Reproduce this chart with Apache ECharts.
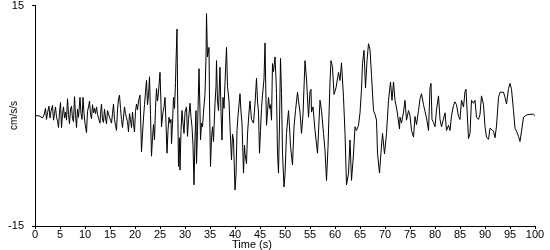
<!DOCTYPE html>
<html><head><meta charset="utf-8">
<script src="https://cdn.jsdelivr.net/npm/echarts@6/dist/echarts.min.js"></script>
<style>html,body{margin:0;padding:0;background:#fff}#c{width:550px;height:250px}</style>
</head><body><div id="c"></div>
<script>
var times = [0,0.4,0.8,1.2,1.5,1.8,2.1,2.3,2.5,2.8,3.0,3.2,3.5,3.7,3.9,4.1,4.3,4.5,4.7,4.9,5.1,5.3,5.5,5.7,5.9,6.1,6.3,6.5,6.7,6.9,7.1,7.3,7.5,7.7,7.9,8.1,8.3,8.5,8.7,9.0,9.2,9.4,9.6,9.8,10.0,10.3,10.5,10.7,10.9,11.1,11.3,11.5,11.7,11.9,12.1,12.3,12.5,12.7,13.0,13.1,13.3,13.5,13.7,13.9,14.1,14.3,14.5,14.7,14.9,15.1,15.3,15.5,15.7,15.9,16.1,16.3,16.5,16.7,16.9,17.1,17.3,17.5,17.7,17.9,18.1,18.3,18.5,18.7,18.9,19.1,19.3,19.5,19.7,19.9,20.1,20.3,20.5,20.7,21.0,21.3,21.5,21.7,21.9,22.1,22.3,22.5,22.7,22.9,23.1,23.3,23.5,23.7,23.9,24.1,24.3,24.5,24.7,25.0,25.2,25.3,25.6,25.8,26.0,26.2,26.4,26.6,26.8,27.0,27.2,27.3,27.5,27.7,27.9,28.1,28.2,28.4,28.5,28.7,28.9,29.0,29.2,29.4,29.6,29.8,30.0,30.3,30.5,30.7,31.0,31.2,31.4,31.6,31.8,32.0,32.2,32.3,32.5,32.8,33.0,33.1,33.3,33.5,33.7,34.0,34.2,34.3,34.5,34.8,34.9,35.1,35.3,35.5,35.7,36.0,36.2,36.3,36.5,36.7,37.0,37.2,37.4,37.6,37.8,38.0,38.3,38.5,38.8,39.0,39.3,39.5,39.7,40.0,40.2,40.4,40.6,41.0,41.2,41.4,41.7,41.9,42.0,42.3,42.5,42.8,43.0,43.3,43.7,44.0,44.3,44.5,44.7,44.9,45.1,45.3,45.5,45.8,46.0,46.2,46.3,46.5,46.7,46.9,47.1,47.3,47.5,47.7,48.0,48.2,48.3,48.5,48.7,48.9,49.1,49.3,49.5,49.8,50.0,50.3,50.7,50.9,51.1,51.5,51.8,52.1,52.5,52.7,53.0,53.3,53.6,54.0,54.3,54.7,55.0,55.2,55.3,55.6,56.0,56.5,57.0,57.3,57.7,58.0,58.3,58.6,59.0,59.2,59.5,59.8,60.2,60.7,61.0,61.3,61.7,62.0,62.3,62.7,63.0,63.3,63.7,64.0,64.3,64.7,65.0,65.3,65.5,65.8,66.1,66.4,66.7,67.0,67.3,67.7,68.0,68.3,68.5,68.9,69.2,69.5,69.9,70.3,70.7,71.1,71.4,71.7,72.0,72.4,72.9,73.0,73.3,73.7,74.0,74.3,74.7,75.0,75.3,75.7,76.0,76.3,76.7,77.0,77.3,77.7,78.0,78.3,78.7,79.0,79.2,79.4,79.7,80.0,80.3,80.7,81.0,81.3,81.7,82.0,82.3,82.7,83.0,83.3,83.7,84.0,84.3,84.7,85.0,85.3,85.7,86.0,86.2,86.7,87.0,87.3,87.7,88.0,88.3,88.7,89.0,89.3,89.7,90.0,90.3,90.7,91.0,91.3,91.7,92.0,92.3,92.7,93.0,93.3,93.7,94.0,94.3,94.7,95.0,95.3,95.7,96.0,96.3,96.7,97.0,97.3,97.7,98.0,98.3,99.0,99.7,100.0];
var accel = [0,0.1,0,0.15,-0.3,0.1,1.0,-0.5,0.4,1.3,-0.3,0.6,1.4,-0.6,0.3,1.2,-0.2,-0.7,-1.6,0.5,1.8,-1.6,0.2,1.2,-0.3,0.5,-0.6,2.3,0.2,-1.1,0.9,1.3,-0.4,-0.8,2.6,0.2,-1.6,0.9,-0.2,2.5,0.3,-0.5,2.5,0.3,-1.0,-2.3,0.6,1.2,2.0,0.2,-0.4,1.5,0.4,1.0,0.3,1.2,0.2,-0.3,-1.0,0.2,1.6,-0.6,-0.9,0.9,-0.3,-1.1,0.7,0.5,-0.2,-0.6,-1.0,0.3,1.6,-0.5,-1.3,-2.0,0.8,2.3,2.8,1.0,-0.5,-1.6,-1.5,1.2,0.3,-0.3,-0.8,-2.2,0.3,-0.5,-1.6,0.5,-1.1,-2.2,0.6,1.6,0.8,2.0,2.8,-4.9,-2.5,-0.3,1.5,3.2,4.8,1.5,2.8,5.3,0.2,-5.5,-3.0,-1.2,-3.3,1.0,3.7,2.0,3.2,5.9,1.5,-1.5,0.5,1.2,2.5,-1.0,-5.1,-2.0,-0.2,-1.0,-0.5,-3.8,-1.0,2.5,1.0,4.5,7.3,11.8,4.0,-6.9,-3.0,-7.4,-2.0,0.7,-1.0,-2.4,0.5,1.2,-2.8,-0.5,1.7,-0.2,-1.5,-4.0,-9.4,-3.0,0.7,-6.5,-2.0,6.4,0.5,-3.3,-1.0,-1.5,0.5,3.0,8.0,13.9,8.0,9.3,2.0,-6.9,-3.0,-1.5,-3.5,1.7,4.0,7.5,2.0,0.7,6.6,0.5,-3.3,2.5,1.0,4.5,9.3,4.0,2.0,-1.5,-6.0,-2.5,-3.3,-10.1,-8.0,-2.0,0.0,3.0,0.5,-1.0,-7.8,-4.0,-5.2,-6.5,-2.5,0.5,2.0,-0.5,-1.0,1.6,5.1,2.0,0.5,-5.1,-2.0,1.0,2.8,5.0,9.9,2.0,-1.3,0.5,2.5,1.0,1.5,-0.6,7.1,6.0,8.0,5.0,3.0,-5.1,-7.8,-1.0,7.8,3.0,-5.1,-9.7,-8.0,-2.4,0.7,-1.5,-4.1,-6.7,-1.5,0.7,3.2,2.0,0.5,-2.4,0.2,7.5,5.0,-0.2,3.3,3.6,0.5,1.2,-2.0,-5.1,2.1,0.7,-2.4,-4.7,-8.8,-4.3,4.6,7.5,6.6,2.9,3.8,5.9,4.8,7.2,2.5,-2.4,-9.4,-7.8,-3.3,-8.8,-5.2,-1.5,-2.0,-1.3,0.4,3.6,7.1,8.9,3.8,7.5,9.8,9.0,5.5,0.7,0.2,-0.6,-5.1,-7.8,-5.0,-2.4,-5.2,-2.4,2.1,4.6,2.1,4.6,2.1,0.7,-1.8,-0.2,-1.0,0.5,2.1,-0.6,0.7,0.0,-2.0,-2.9,-0.1,-1.2,0.7,2.3,3.0,1.5,0.6,-0.3,-2.0,3.8,4.4,-0.5,-0.9,-1.5,0.8,2.7,-0.5,-1.5,-1.7,0.4,-2.0,-1.3,-2.0,0.0,1.4,1.9,1.5,-0.1,-0.5,2.1,1.2,3.3,3.6,-3.1,-2.4,2.1,1.7,2.1,-0.2,-0.5,0.2,2.7,1.5,-1.5,-2.9,-3.2,-1.7,-1.9,-2.1,-3.0,-1.4,2.5,3.2,3.3,3.2,2.5,1.6,3.7,4.4,3.6,0.7,-1.7,-2.1,-2.8,-3.5,-2.1,-0.2,-0.1,0.1,0.2,0.2,0.0];
var xTicks = [0,5,10,15,20,25,30,35,40,45,50,55,60,65,70,75,80,85,90,95,100];
var yTicks = [-15,15];
var yTitle = 'cm/s/s';
var xTitle = 'Time (s)';

var pts = times.map(function(t,i){return [t, accel[i]];});
var font = 'Liberation Sans';
var chart = echarts.init(document.getElementById('c'), null, {renderer:'canvas'});
chart.setOption({
  animation:false,
  grid:{left:35,right:15,top:5,bottom:24,containLabel:false},
  xAxis:{type:'value',min:0,max:100,interval:5,
    axisLine:{show:true,onZero:false,lineStyle:{color:'#000',width:1}},
    axisTick:{show:true,length:3,lineStyle:{color:'#000'}},
    axisLabel:{color:'#000',fontFamily:font,fontSize:11,margin:3,customValues:xTicks},
    splitLine:{show:false}},
  yAxis:{type:'value',min:-15,max:15,interval:30,
    axisLine:{show:true,onZero:false,lineStyle:{color:'#000',width:1}},
    axisTick:{show:true,length:3,lineStyle:{color:'#000'}},
    axisLabel:{color:'#000',fontFamily:font,fontSize:11,margin:11,customValues:yTicks},
    splitLine:{show:false}},
  graphic:[
    {type:'text',left:9,top:101,rotation:Math.PI/2,style:{text:yTitle,fill:'#000',font:'10px '+font}},
    {type:'text',left:232,top:239,style:{text:xTitle,fill:'#000',font:'11px '+font}}
  ],
  series:[{type:'line',data:pts,showSymbol:false,symbol:'none',
    lineStyle:{color:'#000',width:1},itemStyle:{color:'#000'}}]
});
</script></body></html>
